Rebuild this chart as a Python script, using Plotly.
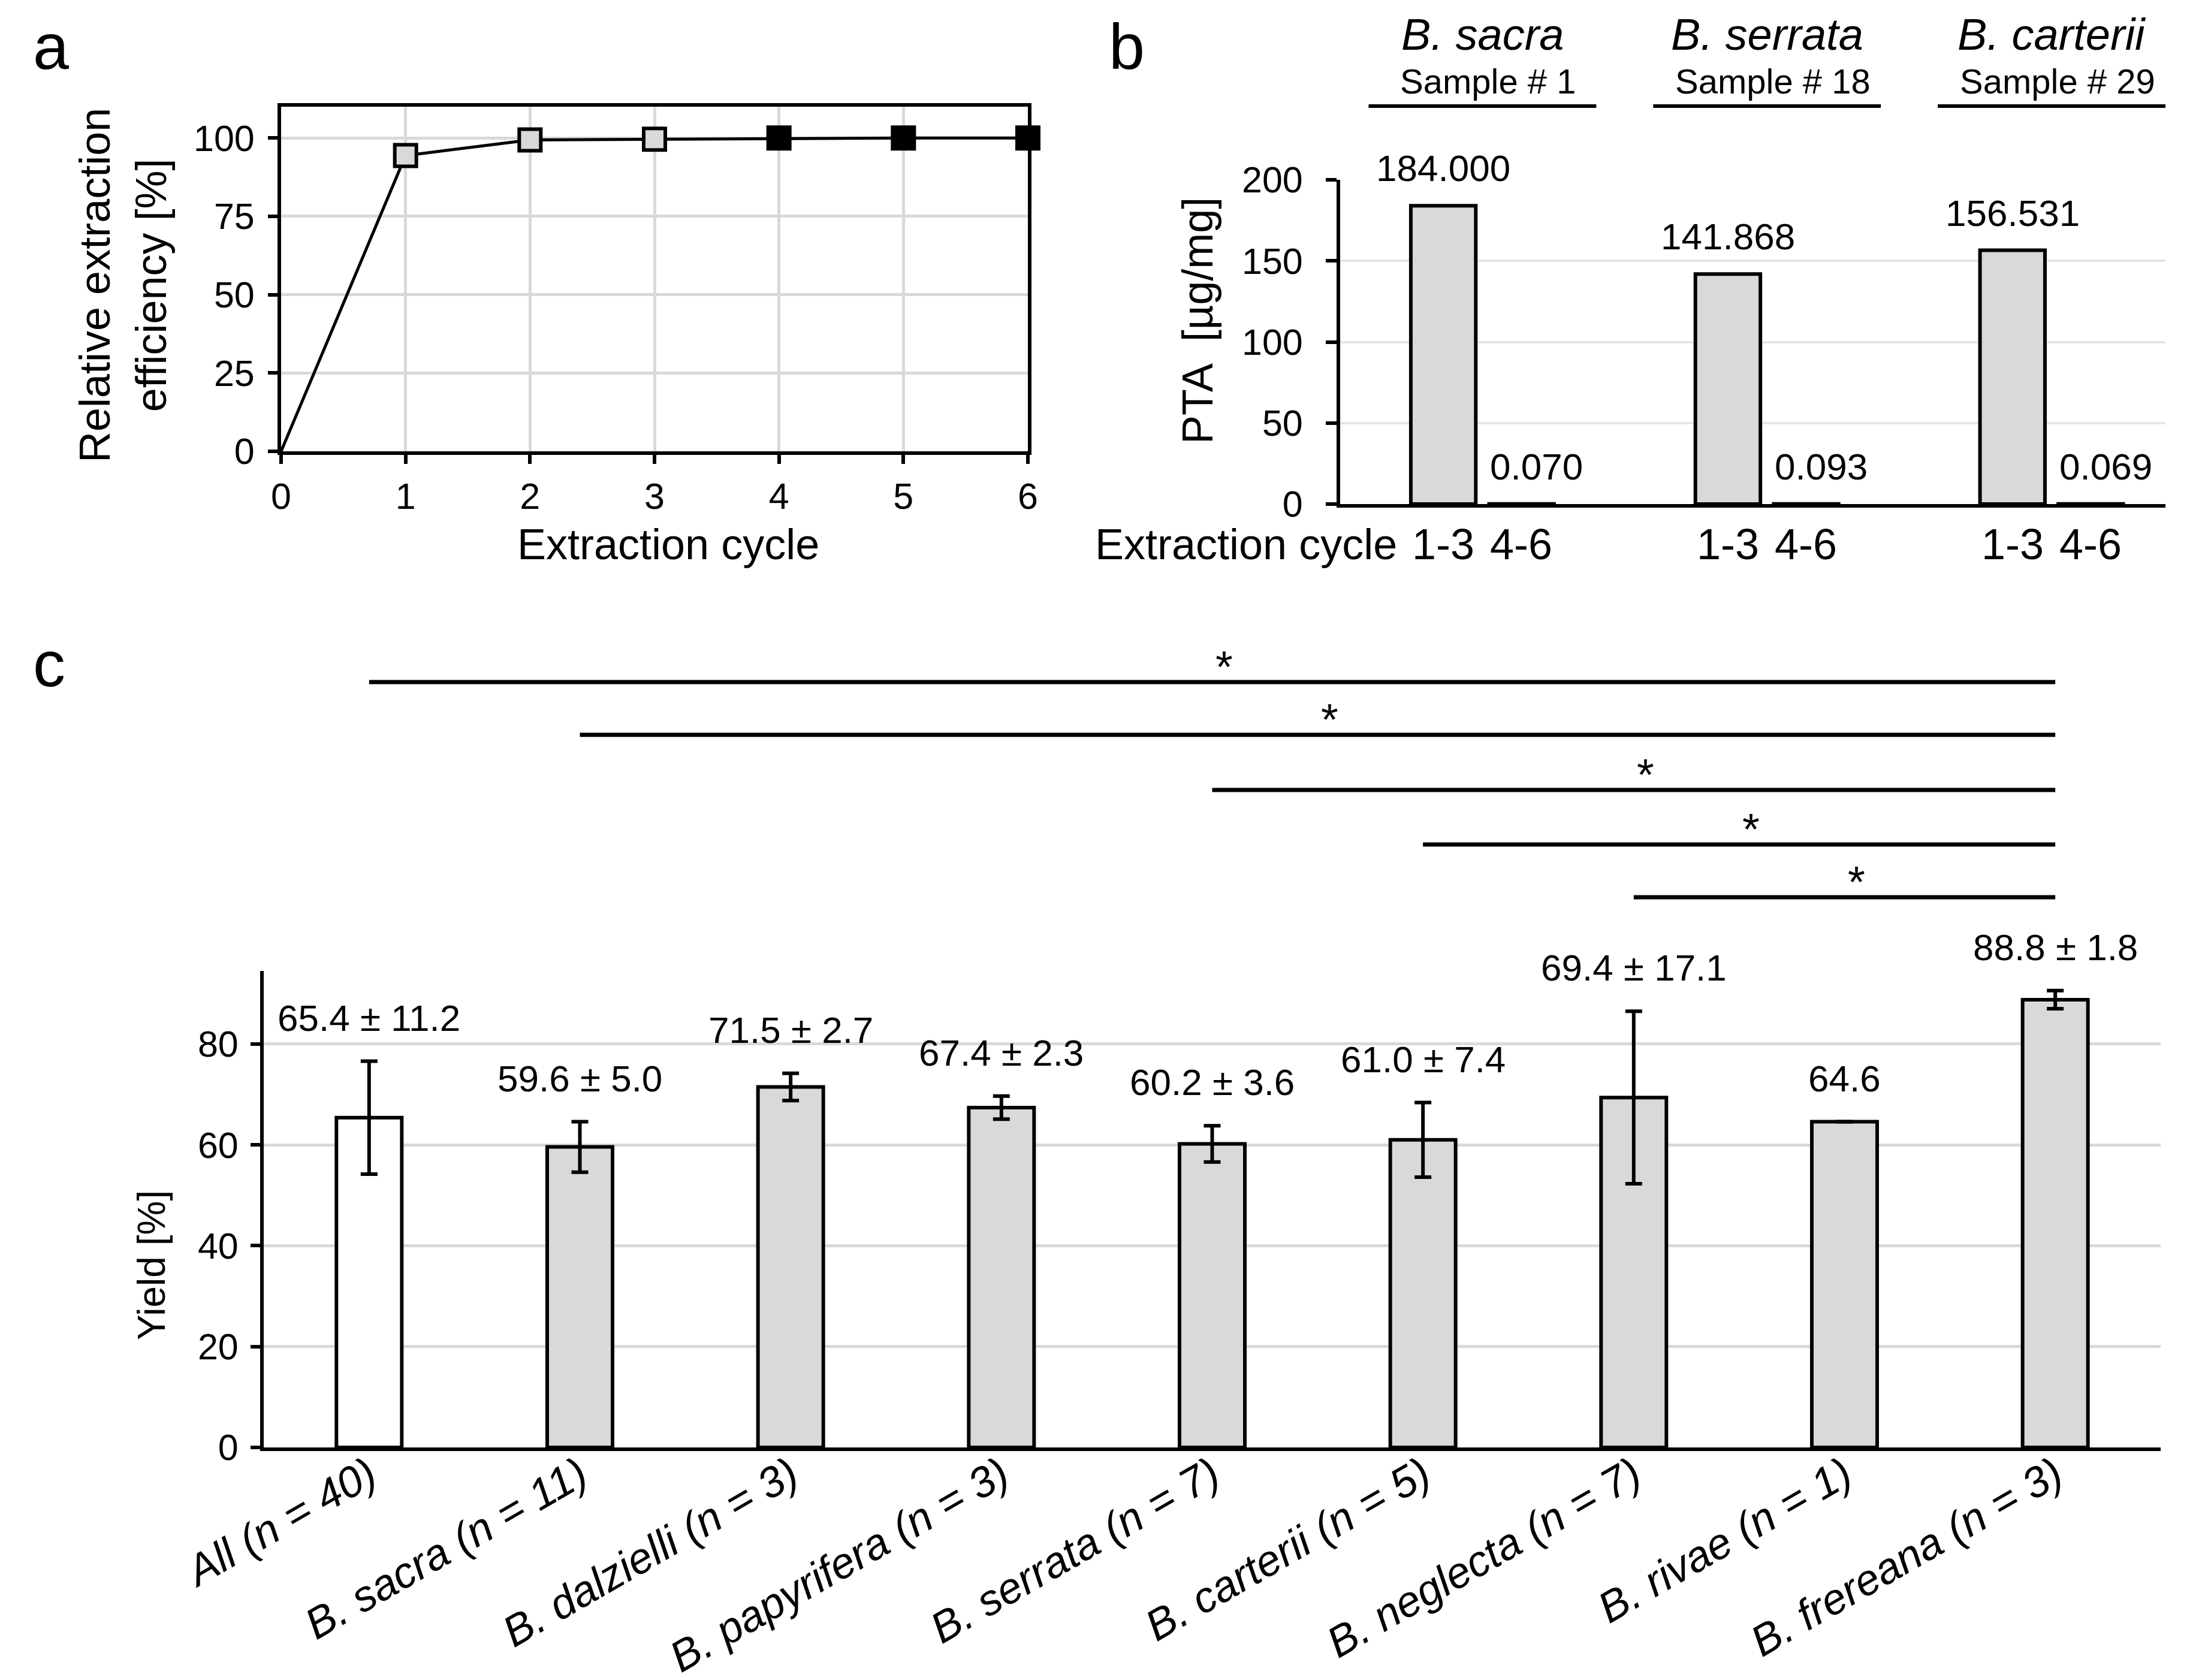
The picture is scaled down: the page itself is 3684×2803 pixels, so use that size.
import plotly.graph_objects as go

# ---------------- data ----------------
cycles = [0, 1, 2, 3, 4, 5, 6]
efficiency = [0, 94.4, 99.4, 99.6, 100, 100, 100]

species_b = ["B. sacra", "B. serrata", "B. carterii"]
samples_b = ["Sample # 1", "Sample # 18", "Sample # 29"]
pta_13 = [184.000, 141.868, 156.531]
pta_46 = [0.070, 0.093, 0.069]
cycle_groups = ["1-3", "4-6"]

groups_c = ["All (n = 40)", "B. sacra (n = 11)", "B. dalzielli (n = 3)",
            "B. papyrifera (n = 3)", "B. serrata (n = 7)", "B. carterii (n = 5)",
            "B. neglecta (n = 7)", "B. rivae (n = 1)", "B. frereana (n = 3)"]
yield_mean = [65.4, 59.6, 71.5, 67.4, 60.2, 61.0, 69.4, 64.6, 88.8]
yield_sd = [11.2, 5.0, 2.7, 2.3, 3.6, 7.4, 17.1, None, 1.8]
sig_pairs = [(0, 8), (1, 8), (4, 8), (5, 8), (6, 8)]

# ---------------- style ----------------
W, H = 3684, 2803
FONT = "Liberation Sans, Arial, sans-serif"
GRID = "#d9d9d9"
BARFILL = "#d9d9d9"
LW = 6

def px_x(p):
    return p / W

def px_y(p):
    return 1 - p / H

fig = go.Figure()

# ---------- panel a ----------
fig.add_trace(go.Scatter(x=cycles, y=efficiency, mode="lines",
                         line=dict(color="black", width=5),
                         xaxis="x", yaxis="y", showlegend=False, hoverinfo="skip"))
fig.add_trace(go.Scatter(x=cycles[1:4], y=efficiency[1:4], mode="markers",
                         marker=dict(symbol="square", size=36, color=BARFILL,
                                     line=dict(color="black", width=6)),
                         xaxis="x", yaxis="y", showlegend=False, cliponaxis=False))
fig.add_trace(go.Scatter(x=cycles[4:], y=efficiency[4:], mode="markers",
                         marker=dict(symbol="square", size=36, color="black",
                                     line=dict(color="black", width=6)),
                         xaxis="x", yaxis="y", showlegend=False, cliponaxis=False))

# ---------- panel b ----------
fig.add_trace(go.Bar(x=species_b, y=pta_13, name=cycle_groups[0],
                     marker=dict(color=BARFILL, line=dict(color="black", width=LW)),
                     xaxis="x2", yaxis="y2", showlegend=False))
fig.add_trace(go.Bar(x=species_b, y=pta_46, name=cycle_groups[1],
                     marker=dict(color=BARFILL, line=dict(color="black", width=LW)),
                     xaxis="x2", yaxis="y2", showlegend=False))

# ---------- panel c ----------
colors_c = ["white"] + [BARFILL] * (len(groups_c) - 1)
fig.add_trace(go.Bar(x=groups_c, y=yield_mean, width=0.31,
                     marker=dict(color=colors_c, line=dict(color="black", width=LW)),
                     error_y=dict(type="data", array=yield_sd, visible=True,
                                  color="black", thickness=6, width=14),
                     xaxis="x3", yaxis="y3", showlegend=False))

annotations = []
shapes = []

tick_font = dict(family=FONT, size=61, color="black")
title_font = dict(family=FONT, size=72, color="black")


def ann(**kw):
    base = dict(showarrow=False, xanchor="center", yanchor="middle")
    base.update(kw)
    annotations.append(base)


# panel letters
for letter, x, y in [("a", 45, 110), ("b", 1840, 110), ("c", 45, 1140)]:
    ann(text=letter, xref="paper", yref="paper", x=px_x(x), y=px_y(y),
        xanchor="left", yanchor="bottom", yshift=-22,
        font=dict(family=FONT, size=108, color="black"))

# panel a titles
ann(text="Relative extraction<br>efficiency [%]", xref="paper", yref="paper",
    x=px_x(197), y=px_y(468), textangle=-90, font=title_font)
ann(text="Extraction cycle", xref="paper", yref="paper",
    x=px_x(1107), y=px_y(900), font=title_font)

# panel b annotations
ann(text="PTA  [µg/mg]", xref="paper", yref="paper",
    x=px_x(1990), y=px_y(527), textangle=-90, font=title_font)
ann(text="Extraction cycle", xref="paper", yref="paper",
    x=px_x(2325), y=px_y(900), xanchor="right", font=title_font)
for i, sp in enumerate(species_b):
    ann(text="<i>" + sp + "</i>", xref="x2", yref="paper", x=i, y=px_y(50),
        font=dict(family=FONT, size=74, color="black"))
    ann(text=samples_b[i], xref="x2", yref="paper", x=i + 0.02, y=px_y(128),
        font=dict(family=FONT, size=58, color="black"))
    shapes.append(dict(type="line", xref="x2", yref="paper", x0=i - 0.4, x1=i + 0.4,
                       y0=px_y(169), y1=px_y(169), line=dict(color="black", width=6)))
    for j, (lab, vals) in enumerate(zip(cycle_groups, [pta_13, pta_46])):
        xs = -65 if j == 0 else 65
        ann(text=lab, xref="x2", yref="paper", x=i, y=px_y(900), xshift=xs, font=title_font)
        ann(text=f"{vals[i]:.3f}", xref="x2", yref="y2", x=i, y=vals[i],
            xshift=xs + (0 if j == 0 else 25), yshift=26, yanchor="bottom",
            font=dict(family=FONT, size=62, color="black"))

# panel c annotations
ann(text="Yield [%]", xref="paper", yref="paper",
    x=px_x(245), y=px_y(2103), textangle=-90,
    font=dict(family=FONT, size=64, color="black"))
for i, (m, s) in enumerate(zip(yield_mean, yield_sd)):
    label = f"{m:.1f}" if s is None else f"{m:.1f} ± {s:.1f}"
    top = m if s is None else m + s
    ann(text=label, xref="x3", yref="y3", x=i, y=top, yanchor="bottom", yshift=36,
        font=dict(family=FONT, size=62, color="black"))

bracket_px = [1130, 1218, 1310, 1401, 1489]
for (a_i, b_i), ypx in zip(sig_pairs, bracket_px):
    shapes.append(dict(type="line", xref="x3", yref="paper", x0=a_i, x1=b_i,
                       y0=px_y(ypx), y1=px_y(ypx), line=dict(color="black", width=7)))
    ann(text="*", xref="x3", yref="paper", x=(a_i + b_i) / 2, y=px_y(ypx),
        yanchor="bottom", yshift=-18, xshift=20,
        font=dict(family=FONT, size=74, color="black"))

axis_common = dict(linecolor="black", linewidth=LW, tickfont=tick_font, zeroline=False,
                   automargin=False)

fig.update_layout(
    template="none",
    width=W, height=H, autosize=False,
    margin=dict(l=0, r=0, t=0, b=0, pad=0),
    paper_bgcolor="white", plot_bgcolor="white",
    font=dict(family=FONT, color="black"),
    barmode="group", bargap=0.45, bargroupgap=0.17,
    xaxis=dict(domain=[px_x(461), px_x(1707)], anchor="y", range=[0, 6],
               tickvals=cycles, showgrid=True, gridcolor=GRID, gridwidth=5,
               showline=True, mirror=True, ticks="outside", ticklen=15, tickwidth=LW,
               tickcolor="black", ticklabelstandoff=2, **axis_common),
    yaxis=dict(domain=[px_y(745), px_y(170)], anchor="x", range=[0, 110],
               tickvals=[0, 25, 50, 75, 100], showgrid=True, gridcolor=GRID, gridwidth=5,
               showline=True, mirror=True, ticks="outside", ticklen=16, tickwidth=LW,
               tickcolor="black", ticklabelstandoff=10, **axis_common),
    xaxis2=dict(domain=[px_x(2228), px_x(3605)], anchor="y2", range=[-0.5, 2.4],
                showticklabels=False, showgrid=False, showline=True, ticks="",
                **axis_common),
    yaxis2=dict(domain=[px_y(833), px_y(292)], anchor="x2", range=[0, 200],
                tickvals=[0, 50, 100, 150, 200], showgrid=True, gridcolor="#e6e6e6", gridwidth=4,
                showline=True, ticks="outside", ticklen=18, tickwidth=LW, tickcolor="black",
                ticklabelstandoff=26, **axis_common),
    xaxis3=dict(domain=[px_x(432), px_x(3597)], anchor="y3", range=[-0.5, 8.5],
                tickvals=groups_c, ticktext=["<i>" + g + "</i>" for g in groups_c],
                tickangle=-30, showgrid=False, showline=True, ticks="",
                ticklabelstandoff=-30, automargin=False,
                linecolor="black", linewidth=LW, zeroline=False,
                tickfont=dict(family=FONT, size=72, color="black")),
    yaxis3=dict(domain=[px_y(2407), px_y(1612)], anchor="x3", range=[0, 94.5],
                tickvals=[0, 20, 40, 60, 80], showgrid=True, gridcolor=GRID, gridwidth=5,
                showline=True, ticks="outside", ticklen=16, tickwidth=LW, tickcolor="black",
                ticklabelstandoff=8, **axis_common),
    annotations=annotations,
    shapes=shapes,
)

fig.write_html("out.html")
